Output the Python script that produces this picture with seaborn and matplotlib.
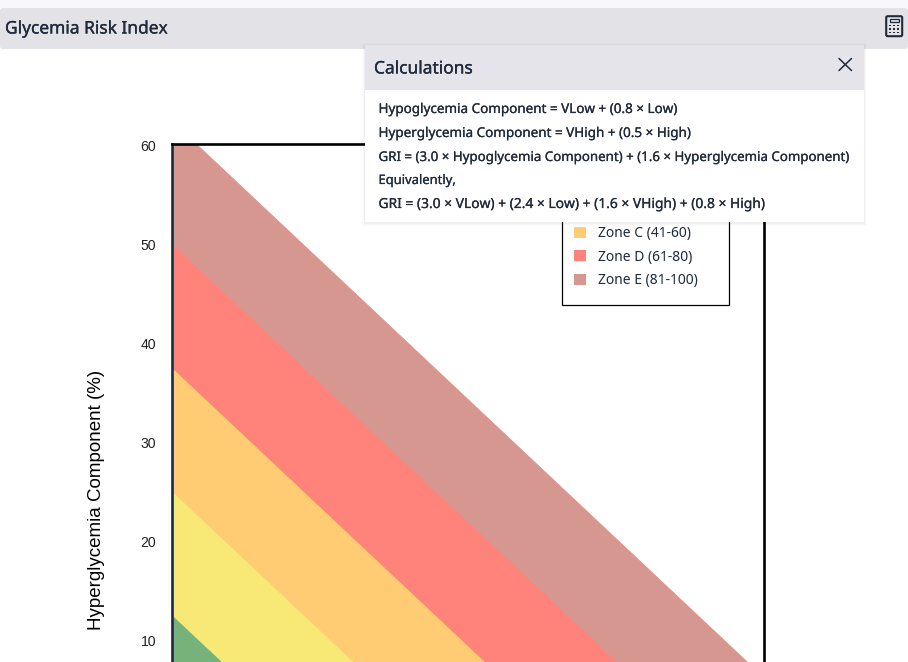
import matplotlib
matplotlib.use("Agg")
import matplotlib.pyplot as plt
import matplotlib.patheffects as pe
from matplotlib.patches import Rectangle, FancyBboxPatch, Patch
import pandas as pd
import seaborn as sns

W, H = 908, 662

zone_labels = ["Zone A (0-20)", "Zone B (21-40)", "Zone C (41-60)", "Zone D (61-80)", "Zone E (81-100)"]
zone_colors = ["#76B27A", "#F8E976", "#FFCC73", "#FF837A", "#D59790"]
hyper_intercepts = [12.5, 25.0, 37.5, 50.0, 62.5]
hypo_intercepts = [6.67, 13.33, 20.0, 26.67, 33.33]
y_ticks = [10, 20, 30, 40, 50, 60]
calc_lines = [
    "Hypoglycemia Component = VLow + (0.8 × Low)",
    "Hyperglycemia Component = VHigh + (0.5 × High)",
    "GRI = (3.0 × Hypoglycemia Component) + (1.6 × Hyperglycemia Component)",
    "Equivalently,",
    "GRI = (3.0 × VLow) + (2.4 × Low) + (1.6 × VHigh) + (0.8 × High)",
]
calc_y = [109, 133, 157, 180, 204]
calc_size = [9.7, 9.7, 9.58, 9.35, 9.95]

sns.set_theme(style="white")
UI = ["Noto Sans", "DejaVu Sans"]
INK = "#1F2A3C"
plt.rcParams["font.family"] = ["Liberation Sans", "DejaVu Sans"]

fig = plt.figure(figsize=(W / 100, H / 100), dpi=100, facecolor="white")


def overlay(z):
    a = fig.add_axes([0, 0, 1, 1], zorder=z)
    a.set_xlim(0, W)
    a.set_ylim(H, 0)
    a.axis("off")
    a.patch.set_alpha(0)
    return a


def semibold(width):
    return [pe.withStroke(linewidth=width, foreground=INK)]


bg = overlay(0)
bg.add_patch(Rectangle((0, 0), W, 8, fc="#F8F8FC", ec="none"))
bg.add_patch(FancyBboxPatch((0, 8), W, 41, boxstyle="round,pad=0,rounding_size=3", fc="#E3E2E6", ec="none"))
bg.text(5, 28.5, "Glycemia Risk Index", family=UI, fontsize=12.5, color=INK, va="center", ha="left",
        path_effects=semibold(0.2))

# main plot; its lower part runs past the bottom of the canvas
left, right, top, bottom = 172, 764, 144, 739.5
ax = fig.add_axes([left / W, 1 - bottom / H, (right - left) / W, (bottom - top) / H], zorder=1)
ax.patch.set_alpha(0)
for label, color, yi, xi in reversed(list(zip(zone_labels, zone_colors, hyper_intercepts, hypo_intercepts))):
    df = pd.DataFrame({"hypo": [0, xi], "hyper": [yi, 0]})
    ax.fill_between(df["hypo"], df["hyper"], 0, color=color, lw=0)
    sns.lineplot(data=df, x="hypo", y="hyper", ax=ax, color=color, lw=0.6, legend=False)
ax.set_xlim(0, 30)
ax.set_ylim(0, 60.2)
ax.set_xticks([])
ax.set_yticks(y_ticks)
ax.tick_params(axis="y", length=0, pad=11.5, labelsize=10.1, labelcolor="#222222")
ax.set_xlabel("")
ax.set_ylabel("Hyperglycemia Component (%)", fontsize=13.5, color="black")
ax.yaxis.set_label_coords((105 - left) / (right - left), (bottom - 500) / (bottom - top))
for s in ax.spines.values():
    s.set_visible(True)
    s.set_linewidth(1.9)
    s.set_color("black")
ax.spines["left"].set_color(INK)

# legend: the popover covers its upper part, so only its last rows show
bx0, bx1, by0, by1 = 562, 729, 200, 305
ax.add_patch(Rectangle((bx0 / W, 1 - by1 / H), (bx1 - bx0) / W, (by1 - by0) / H, transform=fig.transFigure,
                       fc="white", ec="black", lw=0.9, clip_on=False, zorder=4))
handles = [Patch(fc=c, ec="none") for c in zone_colors[2:]]
leg = ax.legend(
    handles, zone_labels[2:],
    loc="lower left",
    bbox_to_anchor=(574 / W, 1 - 288 / H),
    bbox_transform=fig.transFigure,
    borderaxespad=0, frameon=False,
    prop={"family": UI, "size": 10}, labelcolor=INK,
    handlelength=0.86, handleheight=0.86, handletextpad=0.85, labelspacing=0.6, borderpad=0,
)

fg = overlay(2)
# calculator icon
fg.add_patch(FancyBboxPatch((886.2, 16.2), 16, 20, boxstyle="round,pad=0,rounding_size=1.5", fc="none", ec=INK, lw=1.5))
fg.add_patch(Rectangle((889.5, 19), 9.5, 3.2, fc="none", ec=INK, lw=0.9))
for row_y in (25.5, 29, 32.5):
    for col_x in (890.3, 894.2, 898.1):
        fg.add_patch(Rectangle((col_x - 0.9, row_y - 0.9), 1.8, 1.8, fc=INK, ec="none"))

# popover with a soft shadow
for grow, alpha in ((3, 0.012), (2, 0.02), (1, 0.03)):
    fg.add_patch(Rectangle((364.5 - grow, 45 - grow + 1), 499.5 + 2 * grow, 177 + 2 * grow, fc="black", ec="none", alpha=alpha))
fg.add_patch(Rectangle((364.5, 45), 499.5, 177, fc="white", ec="none"))
fg.add_patch(Rectangle((364.5, 45), 499.5, 45, fc="#E5E4EA", ec="none"))
fg.text(374, 68.5, "Calculations", family=UI, fontsize=12.5, color=INK, va="center", ha="left",
        path_effects=semibold(0.2))
fg.plot([839, 851.5], [58.5, 70.5], color=INK, lw=1.1)
fg.plot([839, 851.5], [70.5, 58.5], color=INK, lw=1.1)
for line, yy, size in zip(calc_lines, calc_y, calc_size):
    fg.text(378.5, yy + 0.5, line, family=UI, fontsize=size, color=INK, va="center", ha="left",
            path_effects=semibold(0.15))

fig.savefig("out.png", dpi=100)
